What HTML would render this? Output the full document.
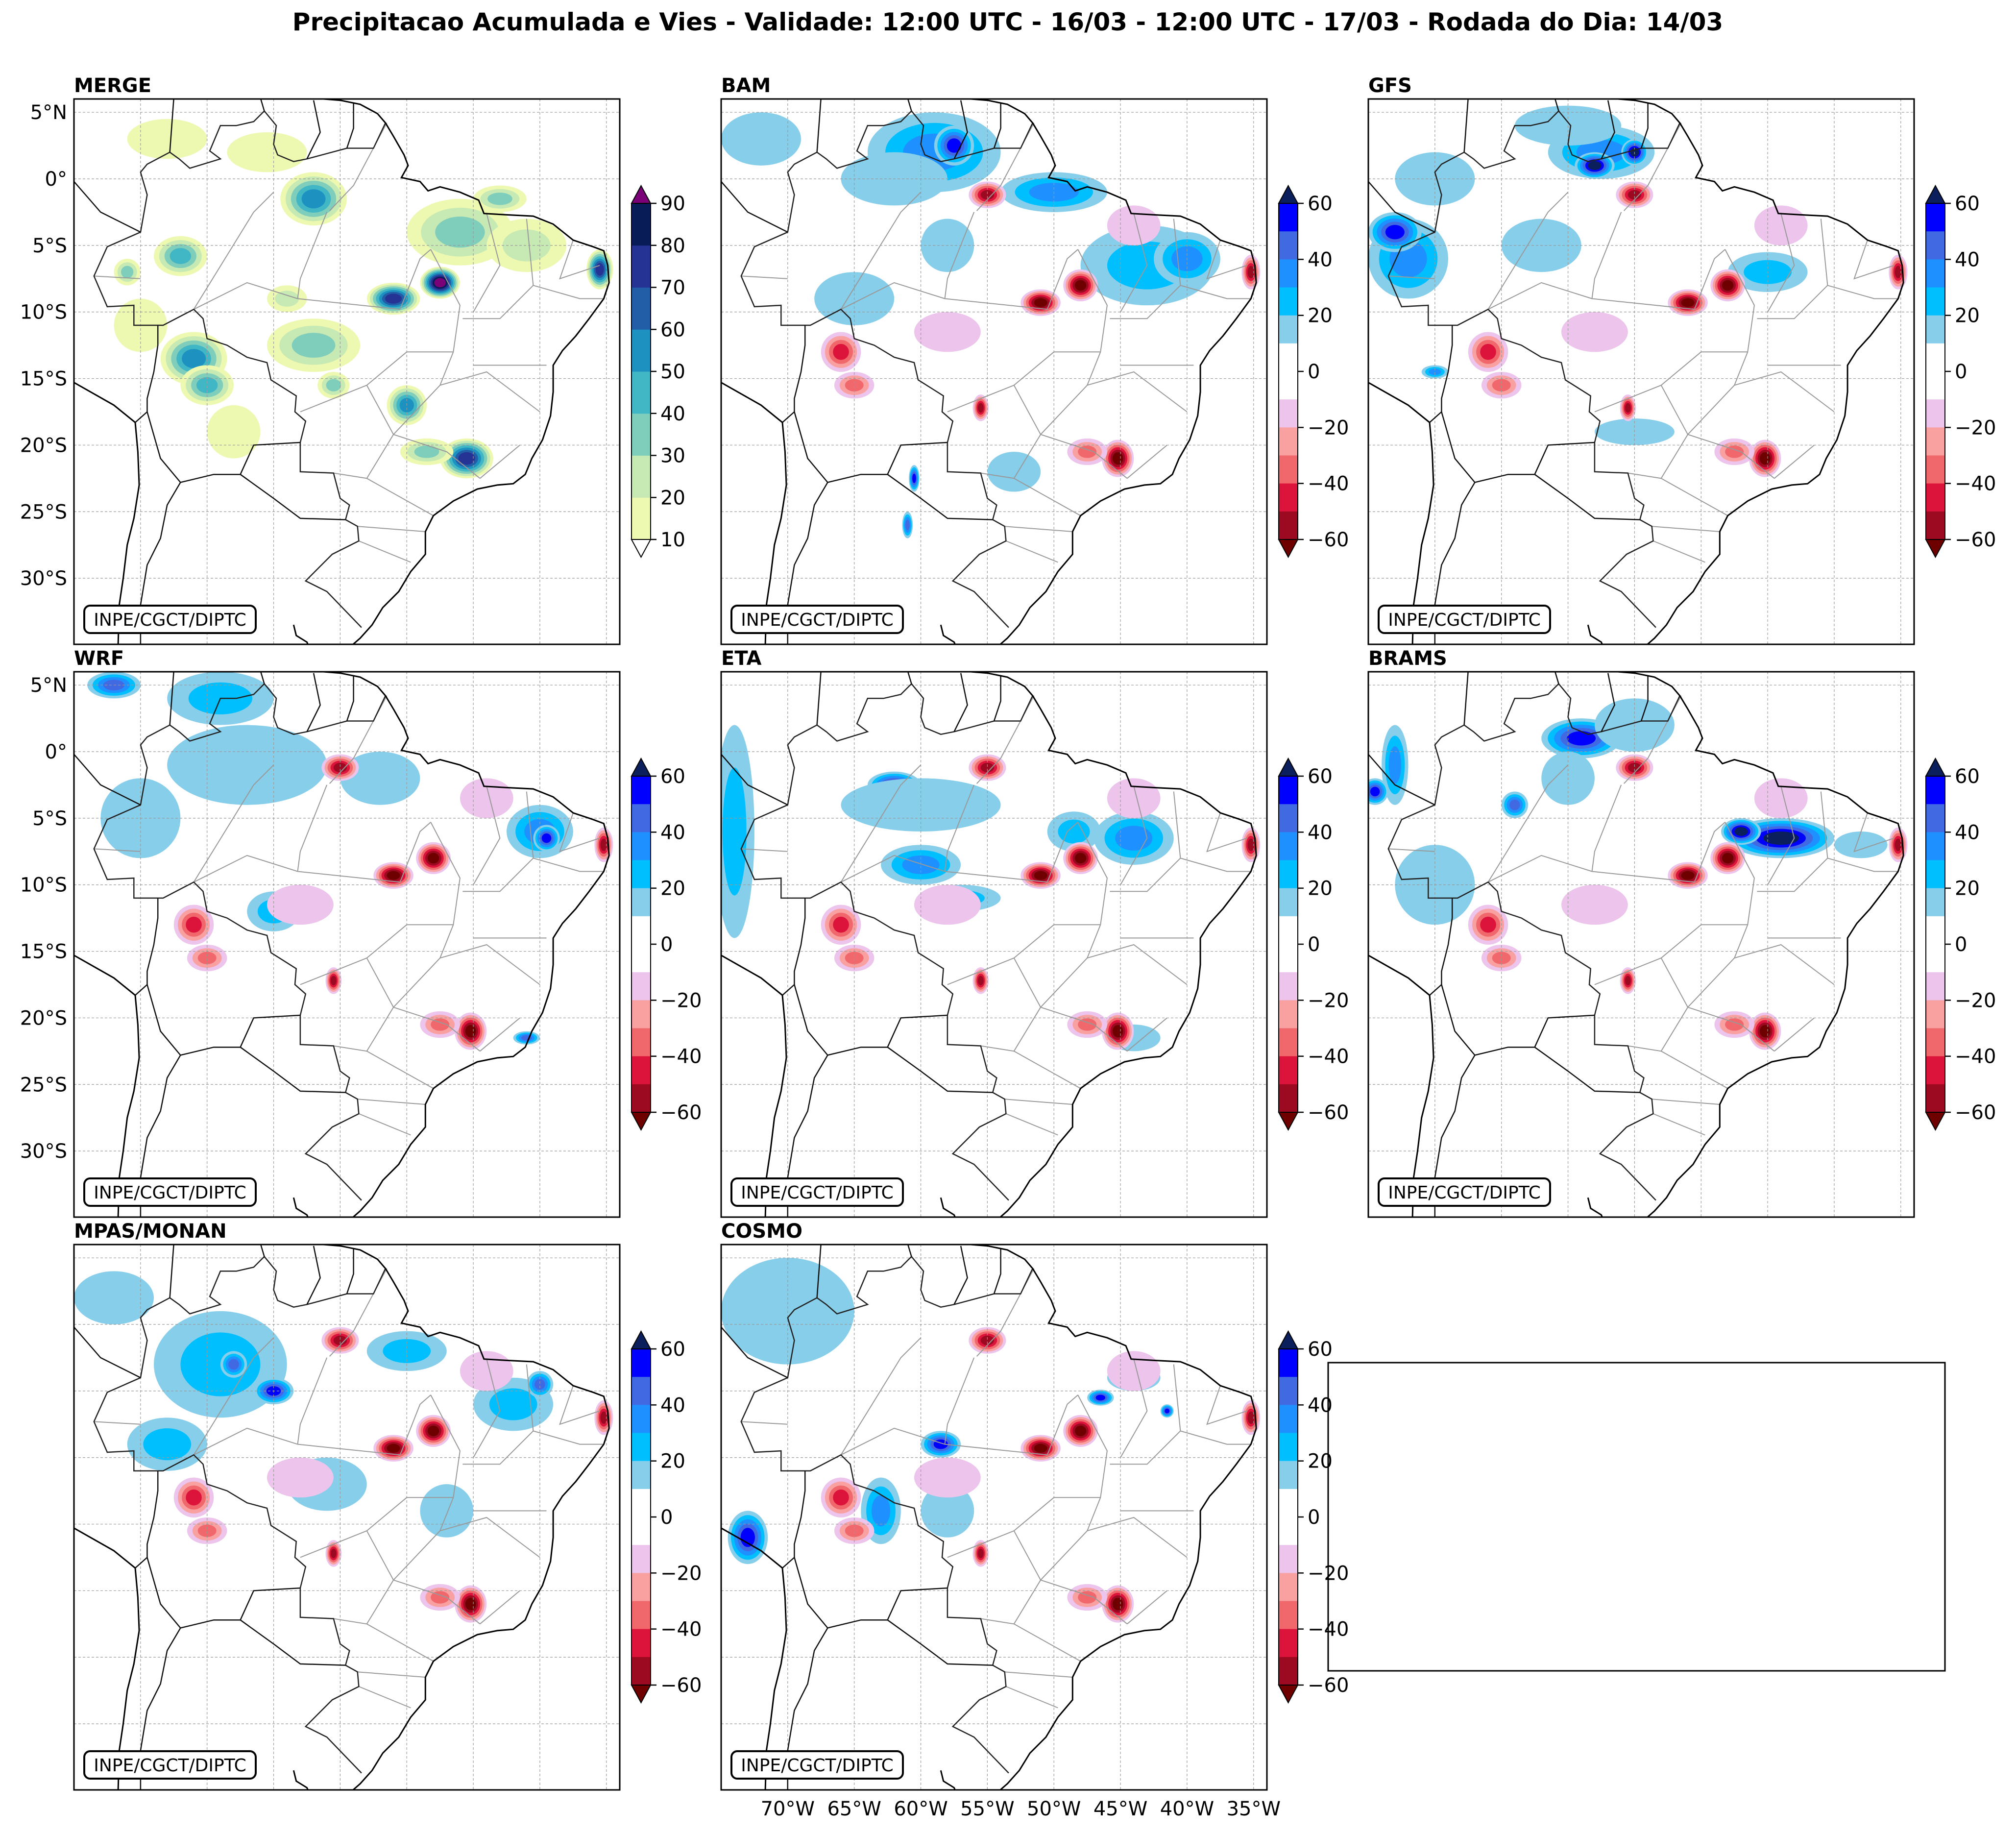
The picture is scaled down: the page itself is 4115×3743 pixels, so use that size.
<!DOCTYPE html>
<html><head><meta charset="utf-8">
<style>
html,body{margin:0;padding:0;background:#fff;}
svg{display:block;font-family:"DejaVu Sans","Liberation Sans",sans-serif;}
</style></head>
<body>
<svg id="fig" width="4115" height="3743" viewBox="0 0 4115 3743" xmlns="http://www.w3.org/2000/svg">
<rect width="4115" height="3743" fill="#fff"/>
<text x="2057" y="62" text-anchor="middle" font-size="50" font-weight="bold">Precipitacao Acumulada e Vies - Validade: 12:00 UTC - 16/03 - 12:00 UTC - 17/03 - Rodada do Dia: 14/03</text>
<rect x="2711" y="2781" width="1259" height="629" fill="none" stroke="#000" stroke-width="3"/>
</svg>
<script>
const NS="http://www.w3.org/2000/svg";
const fig=document.getElementById('fig');
const K=27.17;
const panelNames=["MERGE","BAM","GFS","WRF","ETA","BRAMS","MPAS/MONAN","COSMO"];
const colLeft=[151,1472,2793];
const rowTop=[202,1371,2540];
const mergeLevels=[10,20,30,40,50,60,70,80,90];
const biasTicks=[60,40,20,0,-20,-40,-60];
const mergeColors=["#edf8b1","#c7e9b4","#7fcdbb","#41b6c4","#1d91c0","#225ea8","#253494","#081d58","#7a0177"];
const posColors=["#87ceeb","#00bfff","#1e90ff","#4169e1","#0000ff","#0b1f5c"];
const negColors=["#ecc4ec","#f9a0a0","#f0676c","#dc143c","#9b0a20","#6e0000"];
const latTicks=[5,0,-5,-10,-15,-20,-25,-30];
const latLabels=["5°N","0°","5°S","10°S","15°S","20°S","25°S","30°S"];
const lonTicks=[-70,-65,-60,-55,-50,-45,-40,-35];
const lonLabels=["70°W","65°W","60°W","55°W","50°W","45°W","40°W","35°W"];

// blobs: [lon, lat, rxDeg, ryDeg, level]
const mergeBlobs=[[-57,-1.5,2.5,2,5],[-47.5,-7.8,1.5,1.2,9],[-51,-9,2,1.2,7],[-46,-4,4,2.5,3],[-41,-5,3,2,2],[-35.5,-6.8,1,1.5,7],[-67,-5.8,2,1.5,4],[-71,-7,1,1,3],[-66,-13.5,2.5,2,5],[-65,-15.5,2,1.5,4],[-57,-12.5,3.5,2,3],[-55.5,-15.5,1.2,1,3],[-50,-17,1.5,1.5,5],[-45.5,-21,2,1.5,7],[-48.5,-20.5,2,1,3],[-59,-9,1.5,1,2],[-70,-11,2,2,1],[-68,3,3,1.5,1],[-63,-19,2,2,1],[-60.5,2,3,1.5,1],[-43,-1.5,2,1,3]];
const redBlobs=[[-58,-11.5,2.5,1.5,-1],[-44,-3.5,2,1.5,-1],[-48,-8,1.3,1.2,-6],[-51,-9.3,1.5,1,-6],[-35.2,-7,0.7,1.3,-5],[-55,-1.2,1.4,1,-5],[-45.2,-21,1.2,1.4,-6],[-55.5,-17.2,0.6,1,-5],[-66,-13,1.5,1.5,-4],[-65,-15.5,1.5,1,-3],[-47.5,-20.5,1.5,1,-3]];
const bamBlobs=[[-59,2,5,3,3],[-57.5,2.5,1.5,1.5,5],[-50,-1,4,1.5,3],[-43,-6.5,5,3,2],[-40,-6,2.5,2,3],[-72,3,3,2,1],[-62,0,4,2,1],[-60.5,-22.5,0.4,1,5],[-61,-26,0.4,1,4],[-53,-22,2,1.5,1],[-65,-9,3,2,1],[-58,-5,2,2,1]];
const gfsBlobs=[[-57.5,2,4,2,3],[-58,1,1.5,1,6],[-55,2,1,1,6],[-72,-6,3,3,3],[-73,-4,2,1.5,5],[-62,-5,3,2,1],[-60,4,4,1.5,1],[-45,-7,3,1.5,2],[-70,-14.5,1,0.5,3],[-55,-19,3,1,1],[-70,0,3,2,1]];
const wrfBlobs=[[-72,5,2,1,4],[-64,4,4,2,2],[-62,-1,6,3,1],[-40,-6,2.5,2,3],[-39.5,-6.5,1,1,5],[-60,-12,2,1.5,2],[-52,-2,3,2,1],[-41,-21.5,1,0.5,4],[-70,-5,3,3,1]];
const etaBlobs=[[-62,-2.5,2,1,5],[-60,-8.5,3,1.5,3],[-57,-11,3,1,2],[-44,-6.5,3,2,3],[-74,-6,1.5,8,2],[-60,-4,6,2,1],[-48.5,-6,2,1.5,2],[-44,-21.5,2,1,1]];
const bramsBlobs=[[-44,-6.5,4,1.5,6],[-47,-6,1.5,1,6],[-59,1,3,1.5,5],[-55,2,3,2,1],[-73,-1,1,3,3],[-74.5,-3,1,1,5],[-64,-4,1,1,4],[-60,-2,2,2,1],[-70,-10,3,3,1],[-38,-7,2,1,1]];
const mpasBlobs=[[-64,-3,5,4,2],[-60,-5,1.5,1,5],[-63,-3,1,1,4],[-50,-2,3,1.5,2],[-42,-6,3,2,2],[-40,-4.5,1,1,4],[-68,-9,3,2,2],[-56,-12,3,2,1],[-47,-14,2,2,1],[-72,2,3,2,1]];
const cosmoBlobs=[[-70,1,5,4,1],[-73,-16,1.5,2,5],[-63,-14,1.5,2.5,3],[-58.5,-9,1.5,1,5],[-46.5,-5.5,1,0.6,5],[-41.5,-6.5,0.5,0.5,5],[-44,-4,2,1,2],[-58,-14,2,2,1]];
const panelBlobs=[mergeBlobs,bamBlobs,gfsBlobs,wrfBlobs,etaBlobs,bramsBlobs,mpasBlobs,cosmoBlobs];

const coast=[[-57.5,6.1],[-55,5.9],[-53.5,5.6],[-52.2,4.9],[-51.6,4.2],[-51,3.2],[-50.2,1.8],[-49.9,1],[-50.4,0.1],[-49,-0.2],[-48.4,-0.9],[-47.5,-0.6],[-46,-1],[-44.6,-1.6],[-44.2,-2.6],[-42.5,-2.7],[-40.5,-2.8],[-39,-3.4],[-37.5,-4.6],[-36,-5.1],[-35.2,-5.4],[-34.9,-6.5],[-34.8,-7.8],[-35.2,-9],[-36.3,-10.5],[-37.3,-11.8],[-38.3,-12.9],[-39,-14],[-39,-16],[-39.2,-17.8],[-39.8,-19.6],[-40.6,-21],[-41.1,-22.2],[-42,-22.9],[-43.2,-23],[-44.7,-23.3],[-46.5,-24.2],[-48,-25.3],[-48.6,-26.5],[-48.6,-28.2],[-49.7,-29.5],[-50.6,-31],[-51.8,-32.2],[-52.6,-33.5],[-53.5,-34.5],[-54.3,-35.2]];
const pacific=[[-75,-15.3],[-72,-17],[-70.4,-18.3],[-70.2,-20.5],[-70.1,-23],[-70.5,-25.5],[-71,-27.5],[-71.3,-30],[-71.6,-32],[-71.7,-35.5]];
const plata=[[-57.2,-35.5],[-57.5,-34.8],[-58.3,-34.3],[-58.5,-33.5]];
const brazilBorder=[[-51.6,4.2],[-52.5,2.3],[-54.5,2.3],[-56,1.9],[-57.5,1.5],[-58.5,1.3],[-59.7,1.8],[-60,2.6],[-59.8,4],[-60.7,5.1],[-61.5,4.3],[-62.8,4],[-64,4],[-64.8,2.1],[-64,1.5],[-66.3,0.8],[-67.1,1.5],[-67.8,2],[-69.5,1.1],[-70,0.5],[-69.5,-1.2],[-70,-4],[-72.5,-5.1],[-73.5,-7.3],[-72.5,-9.6],[-70.5,-9.5],[-70.5,-11],[-69.6,-11],[-68.3,-11],[-66,-9.8],[-65.3,-10.5],[-65,-12],[-63.5,-12.5],[-62,-13.4],[-60.5,-13.8],[-60.2,-15.1],[-58.3,-16.3],[-58.4,-17.5],[-57.6,-18.2],[-58,-19.8],[-58,-22],[-55.5,-22.1],[-55,-24],[-54.3,-24.5],[-54.6,-25.6],[-53.7,-26.1],[-53.6,-27.2],[-55.6,-28.2],[-57.6,-30.2],[-56,-31],[-53.4,-33.7]];
const otherBorders=[
[[-69.5,-17.5],[-68.5,-21],[-67,-22.8],[-64.5,-22.2],[-62.5,-22.2],[-61.5,-20],[-58,-19.8]],
[[-62.5,-22.2],[-60,-24],[-58,-25.5],[-54.6,-25.6]],
[[-67,-22.8],[-68,-24.5],[-68.5,-27],[-69.5,-29],[-70,-32],[-70,-35.5]],
[[-68.7,-11],[-68.7,-12.5],[-69,-14.5],[-69.5,-16.5],[-69.5,-17.5],[-70.4,-18.3]],
[[-75,-0.2],[-73,-2.5],[-70,-4]],
[[-67.8,2],[-67.5,6.1]],
[[-57.5,1.5],[-56.5,3.5],[-57,5.9]],
[[-54.5,2.3],[-54,3.8],[-54,5.7]],
[[-60.7,5.1],[-61,6.1]]];
const stateBorders=[
[[-56,-2.5],[-58,-7.5],[-58.2,-9]],[[-58.2,-9],[-50.5,-9.8]],[[-50.5,-9.8],[-49,-6],[-48.2,-5.3]],
[[-60,-1],[-61.5,-2.5],[-66,-9.8]],[[-70,-7.5],[-73.5,-7.3]],[[-66,-9.8],[-62,-7.8],[-58.2,-9]],
[[-51.5,4.2],[-54,-0.5],[-55.8,-2.4]],[[-48.2,-5.3],[-46,-9.5],[-46.5,-13],[-50,-13]],
[[-44,-2.6],[-43,-6.5],[-45,-10]],[[-41,-3],[-40.5,-8],[-43,-10.5],[-45.8,-10.5]],
[[-40.5,-8],[-37,-9],[-35.2,-9]],[[-35.5,-6.5],[-38.5,-7.5],[-37.5,-4.6]],
[[-50,-13],[-53,-15.5],[-51,-19.2],[-47.5,-15.5],[-46.5,-13]],[[-53,-15.5],[-58,-17.5]],
[[-51,-19.2],[-53,-22.5],[-55.5,-22.1]],[[-47.5,-15.5],[-44,-14.5],[-40,-17.5]],
[[-51,-19.2],[-47,-20.5],[-44.5,-22.5]],[[-53,-22.5],[-48,-25.3]],[[-53.7,-26.1],[-48.6,-26.5]],
[[-53.6,-27.2],[-49.7,-28.8]],[[-41.5,-20],[-44.5,-22.5]],[[-39.5,-14],[-45,-14]]];

function el(tag,attrs,parent){const e=document.createElementNS(NS,tag);for(const k in attrs)e.setAttribute(k,attrs[k]);(parent||fig).appendChild(e);return e;}
function lineStr(pts,L,T){return pts.map(p=>((L+(p[0]+75)*K).toFixed(1)+","+(T+(6-p[1])*K).toFixed(1))).join(" ");}

panelNames.forEach((name,i)=>{
  const r=Math.floor(i/3),c=i%3,L=colLeft[c],T=rowTop[r],W=1114,H=1113;
  const isMerge=(i===0);
  const g=el('g',{});
  
  
  const cp=el('clipPath',{id:'cp'+i},g);
  el('rect',{x:L,y:T,width:W,height:H},cp);
  const inner=el('g',{'clip-path':'url(#cp'+i+')'},g);
  const blobs=isMerge?mergeBlobs:panelBlobs[i].concat(redBlobs);
  blobs.forEach(b=>{
    const lvl=Math.abs(b[4]);
    for(let k=1;k<=lvl;k++){
      const s=1-(k-1)/lvl*0.8;
      const col=isMerge?mergeColors[k-1]:(b[4]>0?posColors[k-1]:negColors[k-1]);
      const e=el('ellipse',{cx:L+(b[0]+75)*K,cy:T+(6-b[1])*K,rx:b[2]*K*s,ry:b[3]*K*s,fill:col},inner);
      
      
    }
  });
  latTicks.forEach(v=>{el('line',{x1:L,x2:L+W,y1:T+(6-v)*K,y2:T+(6-v)*K,stroke:'#999','stroke-width':1.2,'stroke-dasharray':'5,4'},inner);});
  lonTicks.forEach(v=>{el('line',{x1:L+(v+75)*K,x2:L+(v+75)*K,y1:T,y2:T+H,stroke:'#999','stroke-width':1.2,'stroke-dasharray':'5,4'},inner);});
  stateBorders.forEach(p=>el('polyline',{points:lineStr(p,L,T),fill:'none',stroke:'#999','stroke-width':2},inner));
  el('polyline',{points:lineStr(brazilBorder,L,T),fill:'none',stroke:'#222','stroke-width':2.5},inner);
  otherBorders.forEach(p=>el('polyline',{points:lineStr(p,L,T),fill:'none',stroke:'#111','stroke-width':2.5},inner));
  [coast,pacific,plata].forEach(p=>el('polyline',{points:lineStr(p,L,T),fill:'none',stroke:'#000','stroke-width':3},inner));
  el('rect',{x:L,y:T,width:W,height:H,fill:'none',stroke:'#000','stroke-width':3},g);
  const t=el('text',{x:L,y:T-14,'font-size':40,'font-weight':'bold'},g);
  t.textContent=name;
  
  
  const cb=el('rect',{x:L+21,y:T+1034,width:350,height:56,rx:12,fill:'#fff',stroke:'#000','stroke-width':4},g);
  
  
  const ct=el('text',{x:L+196,y:T+1075,'text-anchor':'middle','font-size':36},g);
  ct.textContent='INPE/CGCT/DIPTC';
  
  
  if(c===0 && r<2){
    latTicks.forEach((v,j)=>{
      const tt=el('text',{x:L-14,y:T+(6-v)*K+14,'text-anchor':'end','font-size':40},g);
      tt.textContent=latLabels[j];
      
      
    });
  }
  if(i===7){
    lonTicks.forEach((v,j)=>{
      const tt=el('text',{x:L+(v+75)*K,y:T+H+52,'text-anchor':'middle','font-size':40},g);
      tt.textContent=lonLabels[j];
      
      
    });
  }
  const cx=L+1138,cw=39,cy0=T+213,ch=686;
  const cbG=el('g',{},g);
  
  
  if(isMerge){
    const n=mergeLevels.length-1;
    for(let k=0;k<n;k++){
      el('rect',{x:cx,y:cy0+ch-(k+1)*ch/n,width:cw,height:ch/n+0.5,fill:mergeColors[k]},cbG);
    }
    el('polygon',{points:`${cx},${cy0} ${cx+cw},${cy0} ${cx+cw/2},${cy0-36}`,fill:mergeColors[8],stroke:'#000','stroke-width':2},cbG);
    el('polygon',{points:`${cx},${cy0+ch} ${cx+cw},${cy0+ch} ${cx+cw/2},${cy0+ch+36}`,fill:'#fff',stroke:'#000','stroke-width':2},cbG);
    mergeLevels.forEach((v,k)=>{
      const y=cy0+ch-k*ch/n;
      el('line',{x1:cx+cw,x2:cx+cw+12,y1:y,y2:y,stroke:'#000','stroke-width':2.5},cbG);
      const tt=el('text',{x:cx+cw+20,y:y+14,'font-size':40},cbG);
      tt.textContent=String(v);
    });
  } else {
    const yv=v=>cy0+(60-v)/120*ch;
    const bins=[[60,50,posColors[4]],[50,40,posColors[3]],[40,30,posColors[2]],[30,20,posColors[1]],[20,10,posColors[0]],[10,-10,'#fff'],[-10,-20,negColors[0]],[-20,-30,negColors[1]],[-30,-40,negColors[2]],[-40,-50,negColors[3]],[-50,-60,negColors[4]]];
    bins.forEach(b=>el('rect',{x:cx,y:yv(b[0]),width:cw,height:yv(b[1])-yv(b[0])+0.5,fill:b[2]},cbG));
    el('polygon',{points:`${cx},${cy0} ${cx+cw},${cy0} ${cx+cw/2},${cy0-36}`,fill:posColors[5],stroke:'#000','stroke-width':2},cbG);
    el('polygon',{points:`${cx},${cy0+ch} ${cx+cw},${cy0+ch} ${cx+cw/2},${cy0+ch+36}`,fill:negColors[5],stroke:'#000','stroke-width':2},cbG);
    biasTicks.forEach(v=>{
      const y=yv(v);
      el('line',{x1:cx+cw,x2:cx+cw+12,y1:y,y2:y,stroke:'#000','stroke-width':2.5},cbG);
      const tt=el('text',{x:cx+cw+20,y:y+14,'font-size':40},cbG);
      tt.textContent=(v<0?'\u2212'+(-v):String(v));
    });
  }
  el('rect',{x:cx,y:cy0,width:cw,height:ch,fill:'none',stroke:'#000','stroke-width':2},cbG);
});
</script>
</body></html>
